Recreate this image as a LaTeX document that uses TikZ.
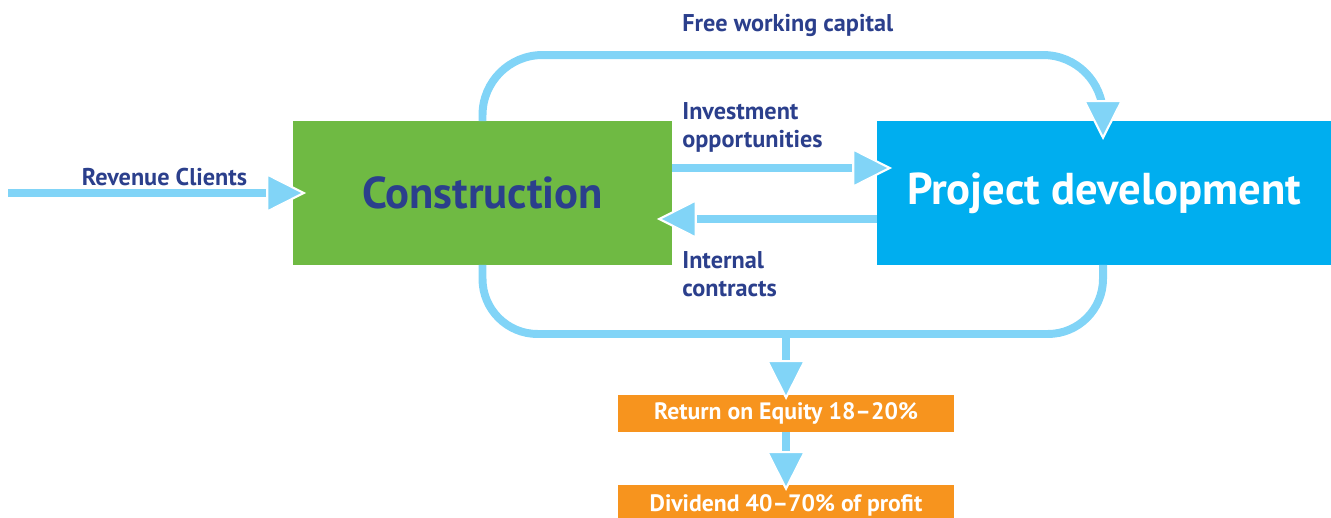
\documentclass[tikz,border=0pt]{standalone}
\usepackage{fontspec}
\setmainfont{PT Sans}
\usetikzlibrary{arrows.meta}
\definecolor{cgreen}{HTML}{6FBA43}
\definecolor{pblue}{HTML}{00AEEF}
\definecolor{tblue}{HTML}{2B3F8C}
\definecolor{ablue}{HTML}{81D4F7}
\definecolor{corange}{HTML}{F7941E}
\begin{document}
\begin{tikzpicture}[x=0.02cm,y=-0.02cm,
  box/.style={inner sep=0pt, outer sep=0pt},
  conn/.style={draw=ablue, line width=4.54pt,
    -{Triangle[length=22.7pt,width=22.7pt,line width=1.2pt,color=white,fill=ablue]}},
  plain/.style={draw=ablue, line width=4.54pt},
  lbl/.style={text=tblue, font=\bfseries\fontsize{13.8}{15.9}\selectfont, align=left, inner sep=0pt},
  big/.style={font=\bfseries\fontsize{25.4}{28}\selectfont},
  obox/.style={box, fill=corange, text=white, minimum width=6.72cm, minimum height=0.74cm,
    font=\bfseries\fontsize{13.5}{15}\selectfont}]
\useasboundingbox (0,0) rectangle (1331,517);
\node[box, big, fill=cgreen, text=tblue, minimum width=7.58cm, minimum height=2.88cm] (constr) at (482.5,193) {Construction};
\node[box, big, fill=pblue, text=white, minimum width=9.08cm, minimum height=2.88cm] (proj) at (1104,193) {Project development};
\node[obox] (roe) at (786,413.5) {Return on Equity 18–20\%};
\node[obox, minimum height=0.8cm] (div) at (786,505) {Dividend 40–70\% of profit};

\coordinate (rs) at (8,193);
\draw[conn] (rs) -- ([shift={(13,0)}]constr.west);
\node[lbl, anchor=center] (revl) at (164.5,177) {Revenue Clients};

\draw[conn, rounded corners=1.2cm] (constr.north) -- ++(0,-66) -| ([shift={(-1,19)}]proj.north);
\node[lbl, anchor=west] (fwc) at (682,25) {Free working capital};

\draw[conn] ([shift={(0,-25)}]constr.east) -- ([shift={(15,-25)}]proj.west);
\node[lbl, anchor=west] (inv) at (682,127) {Investment\\opportunities};

\draw[conn] ([shift={(0,26)}]proj.west) -- ([shift={(-15,26)}]constr.east);
\node[lbl, anchor=west] (ic) at (682,274) {Internal\\contracts};

\draw[plain, rounded corners=1.1cm] (constr.south) -- ++(0,69) -| ([shift={(-1,0)}]proj.south);
\coordinate (bm) at (786,334);
\draw[conn] (bm) -- ([shift={(0,5)}]roe.north);
\draw[conn] (roe.south) -- ([shift={(0,6)}]div.north);
\end{tikzpicture}
\end{document}
